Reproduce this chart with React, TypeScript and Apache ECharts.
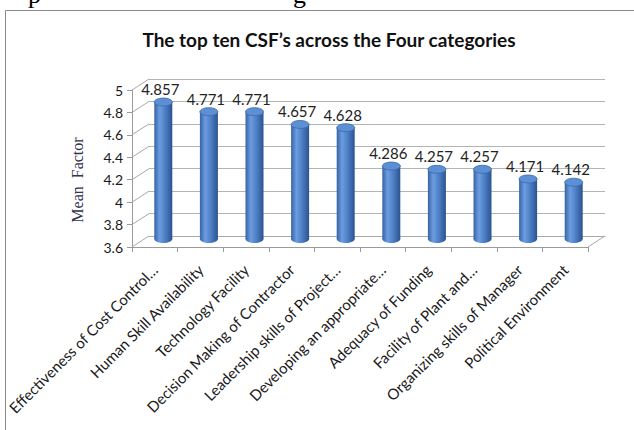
import React, { useEffect, useRef } from "react";
import * as echarts from "echarts";

const categories = [
  "Effectiveness of Cost Control…",
  "Human Skill Availability",
  "Technology Facility",
  "Decision Making of Contractor",
  "Leadership skills of Project…",
  "Developing an appropriate…",
  "Adequacy of Funding",
  "Facility of Plant and…",
  "Organizing skills of Manager",
  "Political Environment",
];
const meanFactor = [4.857, 4.771, 4.771, 4.657, 4.628, 4.286, 4.257, 4.257, 4.171, 4.142];
const yTicks = [3.6, 3.8, 4, 4.2, 4.4, 4.6, 4.8, 5];
const titleText = "The top ten CSF’s across the Four categories";
const yAxisTitle = "Mean  Factor";

const DX = 17;
const DY = -11;
const GRID_LEFT = 132;
const GRID_TOP = 90;
const GRID_W = 456;
const GRID_H = 157;

export default function App() {
  const ref = useRef<HTMLDivElement>(null);
  useEffect(() => {
    if (!ref.current) return;
    const chart = echarts.init(ref.current, null, { renderer: "svg" });
    const yMin = yTicks[0];
    const yMax = yTicks[yTicks.length - 1];
    const option: any = {
      animation: false,
      backgroundColor: "#ffffff",
      title: {
        text: titleText,
        left: 324,
        top: 25,
        textAlign: "center",
        textStyle: { fontFamily: "Lato", fontWeight: "bold", fontSize: 19, color: "#111" },
      },
      graphic: [
        { type: "text", left: 28, top: -19, style: { text: "p", font: "26px 'Liberation Serif'", fill: "#000" } },
        { type: "text", left: 293, top: -19, style: { text: "g", font: "26px 'Liberation Serif'", fill: "#000" } },
        { type: "line", shape: { x1: 5.5, y1: 10.5, x2: 634, y2: 10.5 }, style: { stroke: "#8a8a8a", lineWidth: 1 } },
        { type: "line", shape: { x1: 5.5, y1: 10.5, x2: 5.5, y2: 430 }, style: { stroke: "#8a8a8a", lineWidth: 1 } },
        {
          type: "text",
          x: 77,
          y: 180,
          rotation: Math.PI / 2,
          style: {
            text: yAxisTitle,
            font: "16px 'Liberation Serif'",
            fill: "#33334d",
            textAlign: "center",
            textVerticalAlign: "middle",
          },
        },
      ],
      grid: [
        { left: GRID_LEFT, top: GRID_TOP, width: GRID_W, height: GRID_H },
        { left: GRID_LEFT + DX, top: GRID_TOP + DY, width: GRID_W, height: GRID_H },
      ],
      xAxis: [
        {
          type: "category",
          gridIndex: 0,
          data: categories,
          axisLine: { show: true, lineStyle: { color: "#9a9a9a" } },
          axisTick: { show: true, length: 5, lineStyle: { color: "#9a9a9a" } },
          axisLabel: {
            rotate: 45,
            margin: 20,
            interval: 0,
            fontFamily: "Lato",
            fontSize: 15,
            color: "#1a1a1a",
          },
        },
        {
          type: "category",
          gridIndex: 1,
          data: categories,
          axisLine: { show: true, lineStyle: { color: "#a8a8a8" } },
          axisTick: { show: false },
          axisLabel: { show: false },
        },
      ],
      yAxis: [
        {
          type: "value",
          gridIndex: 0,
          min: yMin,
          max: yMax,
          interval: 0.2,
          axisLine: { show: true, lineStyle: { color: "#9a9a9a" } },
          axisTick: { show: true, length: 5, lineStyle: { color: "#9a9a9a" } },
          splitLine: { show: false },
          axisLabel: {
            margin: 9,
            fontFamily: "Lato",
            fontSize: 14,
            color: "#1a1a1a",
            formatter: (v: number) => String(+v.toFixed(1)),
          },
        },
        {
          type: "value",
          gridIndex: 1,
          min: yMin,
          max: yMax,
          interval: 0.2,
          axisLine: { show: false },
          axisTick: { show: false },
          axisLabel: { show: false },
          splitLine: { show: true, lineStyle: { color: "#b4b4b4", width: 1 } },
        },
      ],
      series: [
        {
          type: "custom",
          xAxisIndex: 0,
          yAxisIndex: 0,
          silent: true,
          data: yTicks.map((v) => [0, v]),
          renderItem: (params: any, api: any) => {
            const cs = params.coordSys;
            const y = api.coord([0, api.value(1)])[1];
            const children: any[] = [
              {
                type: "line",
                shape: { x1: cs.x, y1: y, x2: cs.x + DX, y2: y + DY },
                style: { stroke: "#a8a8a8", lineWidth: 1 },
              },
            ];
            if (params.dataIndex === 0) {
              children.push({
                type: "line",
                shape: { x1: cs.x + cs.width, y1: y, x2: cs.x + cs.width + DX, y2: y + DY },
                style: { stroke: "#a8a8a8", lineWidth: 1 },
              });
            }
            return { type: "group", children };
          },
        },
        {
          type: "custom",
          xAxisIndex: 0,
          yAxisIndex: 0,
          silent: true,
          data: meanFactor.map((v, i) => [i, v]),
          renderItem: (params: any, api: any) => {
            const i = api.value(0);
            const v = api.value(1);
            const top = api.coord([i, v]);
            const base = api.coord([i, yMin]);
            const cx = top[0] + 8.5;
            const yt = top[1] - 4;
            const yb = base[1] - 8;
            const rx = 9;
            const ry = 4;
            const grad = new echarts.graphic.LinearGradient(0, 0, 1, 0, [
              { offset: 0, color: "#3564a6" },
              { offset: 0.3, color: "#6d9de0" },
              { offset: 0.6, color: "#4e80c6" },
              { offset: 1, color: "#2a5390" },
            ]);
            return {
              type: "group",
              children: [
                { type: "ellipse", shape: { cx, cy: yb, rx, ry }, style: { fill: grad } },
                { type: "rect", shape: { x: cx - rx, y: yt, width: rx * 2, height: yb - yt }, style: { fill: grad } },
                {
                  type: "ellipse",
                  shape: { cx, cy: yt, rx, ry },
                  style: { fill: "#5c8fd3", stroke: "#3a69aa", lineWidth: 0.8 },
                },
                {
                  type: "text",
                  x: cx - 3,
                  y: yt - ry - 9,
                  style: {
                    text: v.toFixed(3),
                    font: "15px Lato",
                    fill: "#222",
                    textAlign: "center",
                    textVerticalAlign: "middle",
                  },
                },
              ],
            };
          },
        },
      ],
    };
    chart.setOption(option);
    return () => chart.dispose();
  }, []);
  return (
    <div
      ref={ref}
      style={{ position: "fixed", left: 0, top: 0, width: 634, height: 430, background: "#fff" }}
    />
  );
}
